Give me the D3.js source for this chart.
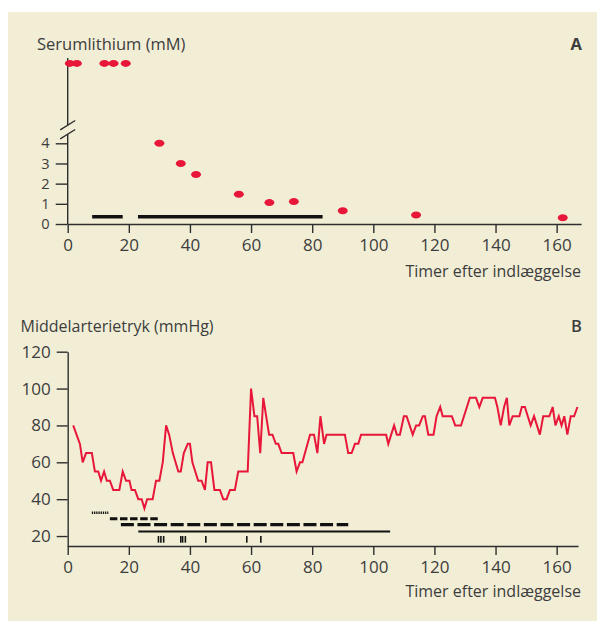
<!DOCTYPE html>
<html><head><meta charset="utf-8">
<script src="https://cdn.jsdelivr.net/npm/d3@7"></script>
<style>
body{margin:0;background:#fff;}
svg{display:block;}
text{font-family:"Open Sans","Noto Sans",sans-serif;fill:#3d3d3d;}
</style></head>
<body>
<svg id="chart" width="597" height="621"></svg>
<script>
// ---------- DATA ----------
// Panel A: serum lithium (mM)
const lithiumTimes  = [30, 37, 42, 56, 66, 74, 90, 114, 162];
const lithiumValues = [4.0, 3.0, 2.45, 1.47, 1.06, 1.11, 0.66, 0.45, 0.31];
// samples above the axis break (off scale)
const offScaleTimes = [0.7, 3, 12, 15, 19];
// treatment bars in panel A: [start, end], drawn at level 0.36 mM
const barsA = [[8, 18], [23, 83.4]];
const barsALevel = 0.36;
const yTicksA = [0, 1, 2, 3, 4];
const xTicks = [0, 20, 40, 60, 80, 100, 120, 140, 160];

// Panel B: mean arterial pressure (mmHg)
const mapTimes = [1.8,4,4.9,6,7.9,8.9,10,10.9,11.9,12.8,13.8,14.9,16.9,18,19.1,20.2,20.9,22,23.1,24.2,25.1,26,27.8,28.9,30,31.1,32.2,33.2,34.4,36.2,37,38,39.3,40,40.8,42.7,43.8,44.9,45.8,46.9,48,49.8,50.9,52,53.1,54.7,55.8,58.9,60,61.1,62,63,64,65.9,67,68.1,68.9,70,73.8,74.9,76,76.8,79.3,80.6,81.7,82.7,83.9,84.7,90.7,91.8,92.9,94,95.1,96,104.2,104.9,106.8,107.7,108.7,110,110.9,112.9,114,115,116.2,116.9,118,119.7,120.7,121.9,122.7,125.7,126.8,128.7,131.6,133.6,134.7,135.8,139.8,140.6,141.7,142.8,143.7,144.5,145.6,147.8,148.6,149.6,151.5,152.6,154.5,155.6,157.6,158.7,159.6,160.7,161.6,162.5,163.5,164.6,165.7,166.8];
const mapValues = [80,70,60,65,65,55,55,50,55,50,50,45,45,55,50,50,45,45,40,40,35,40,40,50,50,60,80,75,65,55,55,65,70,70,60,50,50,45,60,60,45,45,40,40,45,45,55,55,100,85,85,65,95,75,75,70,70,65,65,55,60,60,75,75,65,85,70,75,75,65,65,70,70,75,75,70,80,75,75,85,85,75,80,80,85,85,75,75,85,90,85,85,80,80,95,95,90,95,95,90,80,90,95,80,85,85,90,90,80,85,75,85,85,90,80,85,80,85,75,85,85,90];
// treatment lines in panel B: start, end, level (mmHg), style
const treatStart = [7.9, 13.8, 17.4, 23.1];
const treatEnd   = [13.3, 29.6, 91.8, 105.5];
const treatLevel = [32.6, 29.4, 26.2, 22.5];
const treatStyle = ["dotted", "shortdash", "longdash", "solid"];
// single events (short vertical marks)
const eventTimes = [29.7, 30.5, 31.4, 37, 37.6, 38.5, 45.2, 58.6, 63.2];
const yTicksB = [20, 40, 60, 80, 100, 120];

// ---------- DRAWING ----------
const svg = d3.select("#chart");
const red = "#e8173a", ink = "#2e2e2e", txt = "#3d3d3d";
svg.append("rect").attr("x", 8).attr("y", 12).attr("width", 589).attr("height", 609).attr("fill", "#f2eed6");

const x0 = 67.7, pxPerH = 3.056;
const xTop = d3.scaleLinear().domain([0, 168]).range([x0, x0 + 168 * pxPerH]);
const xBot = d3.scaleLinear().domain([0, 167]).range([x0, x0 + 167 * pxPerH]);
const fmt = d3.format("d");

// ----- Panel A -----
const yA = d3.scaleLinear().domain([0, 4]).range([224, 143.3]);
const breakLo = yA(4.45), breakHi = breakLo - 9, topA = 58;
const yUpper = d3.scaleLinear().domain([0, 1]).range([breakHi, topA]);

const gA = svg.append("g");
gA.append("g").attr("class", "xax").attr("transform", `translate(0,${yA(0)})`)
  .call(d3.axisBottom(xTop).tickValues(xTicks).tickFormat(fmt).tickSize(9).tickSizeOuter(0).tickPadding(6));
const ayA = gA.append("g").attr("class", "yaxA").attr("transform", `translate(${x0},0)`)
  .call(d3.axisLeft(yA).tickValues(yTicksA).tickFormat(fmt).tickSize(12).tickSizeOuter(0).tickPadding(6));
ayA.select(".domain").attr("d", `M0,${yA(0)}V${breakLo}`);
gA.append("line").attr("class", "ax").attr("x1", x0).attr("x2", x0).attr("y1", breakHi).attr("y2", topA);
[breakLo, breakHi].forEach(b => {
  gA.append("line").attr("class", "ax").attr("x1", x0 - 7.5).attr("x2", x0 + 7.5)
    .attr("y1", b + 4.7).attr("y2", b - 4.7);
});
gA.selectAll("line.ax").attr("stroke", ink).attr("stroke-width", 1.4);

gA.selectAll("line.barA").data(barsA).join("line").attr("class", "barA")
  .attr("x1", d => xTop(d[0])).attr("x2", d => xTop(d[1]))
  .attr("y1", yA(barsALevel)).attr("y2", yA(barsALevel))
  .attr("stroke", "#111").attr("stroke-width", 3.5);
gA.selectAll("ellipse.pt").data(lithiumTimes).join("ellipse").attr("class", "pt")
  .attr("cx", d => xTop(d)).attr("cy", (d, i) => yA(lithiumValues[i]))
  .attr("rx", 5).attr("ry", 3.5).attr("fill", red);
gA.selectAll("ellipse.off").data(offScaleTimes).join("ellipse").attr("class", "off")
  .attr("cx", d => xTop(d)).attr("cy", yUpper(0.92))
  .attr("rx", 5).attr("ry", 3.5).attr("fill", red);

gA.append("text").attr("x", 37).attr("y", 50).attr("font-size", 16.5).text("Serumlithium (mM)");
gA.append("text").attr("x", 582).attr("y", 50).attr("text-anchor", "end").attr("font-size", 16.5).attr("font-weight", "bold").attr("fill", "#2a2a2a").text("A");
gA.append("text").attr("x", 581).attr("y", 277).attr("text-anchor", "end").attr("font-size", 16).text("Timer efter indlæggelse");

// ----- Panel B -----
const yB = d3.scaleLinear().domain([14.6, 120]).range([546, 351.7]);
const gB = svg.append("g");
gB.append("g").attr("transform", `translate(0,${yB(14.6)})`)
  .call(d3.axisBottom(xBot).tickValues(xTicks).tickFormat(fmt).tickSize(9).tickSizeOuter(0).tickPadding(6));
gB.append("g").attr("transform", `translate(${x0},0)`)
  .call(d3.axisLeft(yB).tickValues(yTicksB).tickFormat(fmt).tickSize(11).tickSizeOuter(0).tickPadding(6));

const line = d3.line().x(d => xBot(d[0])).y(d => yB(d[1]));
gB.append("path").datum(mapTimes.map((t, i) => [t, mapValues[i]]))
  .attr("d", line).attr("fill", "none").attr("stroke", red).attr("stroke-width", 2)
  .attr("stroke-linejoin", "miter");

const dash = {dotted: "1.3,0.9", shortdash: "7.5,2.6", longdash: "13,3.6", solid: null};
const widthOf = {dotted: 2.4, shortdash: 3, longdash: 3.2, solid: 2};
treatStart.forEach((s, i) => {
  gB.append("line").attr("x1", xBot(s)).attr("x2", xBot(treatEnd[i]))
    .attr("y1", yB(treatLevel[i])).attr("y2", yB(treatLevel[i]))
    .attr("stroke", "#111").attr("stroke-width", widthOf[treatStyle[i]])
    .attr("stroke-dasharray", dash[treatStyle[i]]);
});
gB.selectAll("line.ev").data(eventTimes).join("line").attr("class", "ev")
  .attr("x1", d => xBot(d)).attr("x2", d => xBot(d))
  .attr("y1", yB(20)).attr("y2", yB(16.4))
  .attr("stroke", "#111").attr("stroke-width", 1.6);

gB.append("text").attr("x", 20.5).attr("y", 332).attr("font-size", 16).text("Middelarterietryk (mmHg)");
gB.append("text").attr("x", 582).attr("y", 332).attr("text-anchor", "end").attr("font-size", 16.5).attr("font-weight", "600").attr("fill", "#2a2a2a").text("B");
gB.append("text").attr("x", 581).attr("y", 597).attr("text-anchor", "end").attr("font-size", 16).text("Timer efter indlæggelse");

// axis styling
svg.selectAll(".domain").attr("stroke", ink).attr("stroke-width", 1.4);
svg.selectAll(".tick line").attr("stroke", ink).attr("stroke-width", 1.4);
svg.selectAll(".tick text").attr("font-size", 17).attr("fill", txt)
  .attr("font-family", '"Open Sans","Noto Sans",sans-serif');
svg.selectAll(".yaxA .tick text").attr("font-size", 14.6);
</script>
</body></html>
